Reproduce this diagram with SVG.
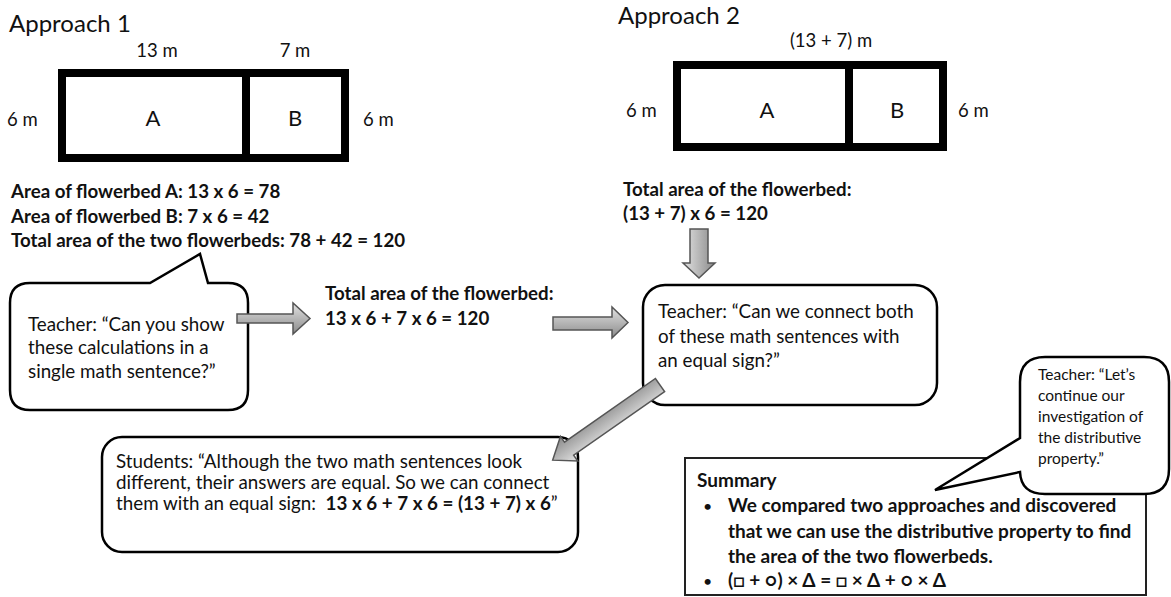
<svg xmlns="http://www.w3.org/2000/svg" width="1171" height="597" viewBox="0 0 1171 597">
<defs>
<linearGradient id="gv" x1="0" y1="0" x2="0" y2="1">
<stop offset="0" stop-color="#e2e2e2"/><stop offset="1" stop-color="#8a8a8a"/>
</linearGradient>
<linearGradient id="gh" x1="0" y1="0" x2="1" y2="0">
<stop offset="0" stop-color="#e2e2e2"/><stop offset="1" stop-color="#8a8a8a"/>
</linearGradient>
<style>
text{font-family:Lato,"Liberation Sans",sans-serif;fill:#111}
.h{font-size:24px}
.m{font-size:18.5px}
.lab{font-size:22px}
.b{font-size:18.7px;font-weight:bold}
.t{font-size:18.8px}
.s{font-size:15.5px}
.sb{font-size:19px;font-weight:bold}
.dot{font-size:16px}
.bed{fill:#fff;stroke:#000;stroke-width:8}
.box{fill:#fff;stroke:#000;stroke-width:2.5}
.arr{stroke:#555;stroke-width:1.5}
</style>
</defs>
<rect width="1171" height="597" fill="#fff"/>

<g id="approach1">
<text class="h" x="9" y="32">Approach 1</text>
<text class="m" x="157" y="57" text-anchor="middle">13 m</text>
<text class="m" x="295" y="57" text-anchor="middle">7 m</text>
<rect class="bed" x="62" y="73" width="283" height="85"/>
<line x1="246" y1="73" x2="246" y2="158" stroke="#000" stroke-width="8"/>
<text class="m" x="7" y="126">6 m</text>
<text class="lab" x="153" y="126" text-anchor="middle">A</text>
<text class="lab" x="295" y="126" text-anchor="middle">B</text>
<text class="m" x="363" y="126">6 m</text>
</g>

<g id="calc1">
<text class="b" x="11" y="198">Area of flowerbed A: 13 x 6 = 78</text>
<text class="b" x="11" y="223">Area of flowerbed B: 7 x 6 = 42</text>
<text class="b" x="11" y="247">Total area of the two flowerbeds: 78 + 42 = 120</text>
</g>

<g id="approach2">
<text class="h" x="618" y="24">Approach 2</text>
<text class="m" x="831" y="47" text-anchor="middle">(13 + 7) m</text>
<rect class="bed" x="677" y="65" width="266" height="82"/>
<line x1="849" y1="65" x2="849" y2="147" stroke="#000" stroke-width="8"/>
<text class="m" x="626" y="117">6 m</text>
<text class="lab" x="767" y="118" text-anchor="middle">A</text>
<text class="lab" x="897" y="118" text-anchor="middle">B</text>
<text class="m" x="958" y="117">6 m</text>
</g>

<g id="calc2">
<text class="b" x="623" y="196">Total area of the flowerbed:</text>
<text class="b" x="623" y="220">(13 + 7) x 6 = 120</text>
</g>

<g id="teacher1">
<path class="box" d="M30 283 H150 L200 254 L208 283 H228 Q248 283 248 303 V390 Q248 410 228 410 H30 Q10 410 10 390 V303 Q10 283 30 283 Z"/>
<text class="t" x="28" y="331">Teacher: “Can you show</text>
<text class="t" x="28" y="354">these calculations in a</text>
<text class="t" x="28" y="378">single math sentence?”</text>
</g>

<g id="calc3">
<text class="b" x="325" y="300">Total area of the flowerbed:</text>
<text class="b" x="325" y="325">13 x 6 + 7 x 6 = 120</text>
</g>

<g id="teacher2">
<rect class="box" x="643" y="285" width="294" height="120" rx="22"/>
<text class="t" x="658" y="318">Teacher: “Can we connect both</text>
<text class="t" x="658" y="343">of these math sentences with</text>
<text class="t" x="658" y="367">an equal sign?”</text>
</g>

<g id="students">
<rect class="box" x="102" y="437" width="476" height="115" rx="20"/>
<text class="t" x="116" y="468">Students: “Although the two math sentences look</text>
<text class="t" x="116" y="489">different, their answers are equal. So we can connect</text>
<text class="t" x="116" y="510">them with an equal sign:&#160; <tspan font-weight="bold">13 x 6 + 7 x 6 = (13 + 7) x 6</tspan>”</text>
</g>

<g id="summary">
<rect x="685" y="458" width="461" height="137" fill="#fff" stroke="#222" stroke-width="2"/>
<text class="sb" x="697" y="487">Summary</text>
<text class="dot" x="703" y="512">•</text>
<text class="sb" x="728" y="512">We compared two approaches and discovered</text>
<text class="sb" x="728" y="538">that we can use the distributive property to find</text>
<text class="sb" x="728" y="563">the area of the two flowerbeds.</text>
<text class="dot" x="703" y="587">•</text>
<text class="sb" x="728" y="587">(□ + ○) × Δ = □ × Δ + ○ × Δ</text>
</g>

<g id="teacher3">
<path class="box" d="M1045 357 H1144 Q1169 357 1169 382 V469 Q1169 494 1144 494 H1045 Q1021 494 1020 472 L935 490 L1020 438 V382 Q1020 357 1045 357 Z"/>
<text class="s" x="1038" y="380">Teacher: “Let’s</text>
<text class="s" x="1038" y="401">continue our</text>
<text class="s" x="1038" y="422">investigation of</text>
<text class="s" x="1038" y="443">the distributive</text>
<text class="s" x="1038" y="464">property.”</text>
</g>

<g id="connectors">
<path class="arr" fill="url(#gv)" d="M237 314 H293 V303 L310 318.5 L293 334 V323 H237 Z"/>
<path class="arr" fill="url(#gv)" d="M553 317 H612 V307 L628 322.5 L612 338 V330 H553 Z"/>
<path class="arr" fill="url(#gh)" d="M690 229 H708 V263 H715 L699 278 L683 263 H690 Z"/>
<path class="arr" fill="url(#gv)" transform="translate(660,385) rotate(145)" d="M0 -8 H111 V-15 L131 0 L111 15 V8 H0 Z"/>
</g>
</svg>
